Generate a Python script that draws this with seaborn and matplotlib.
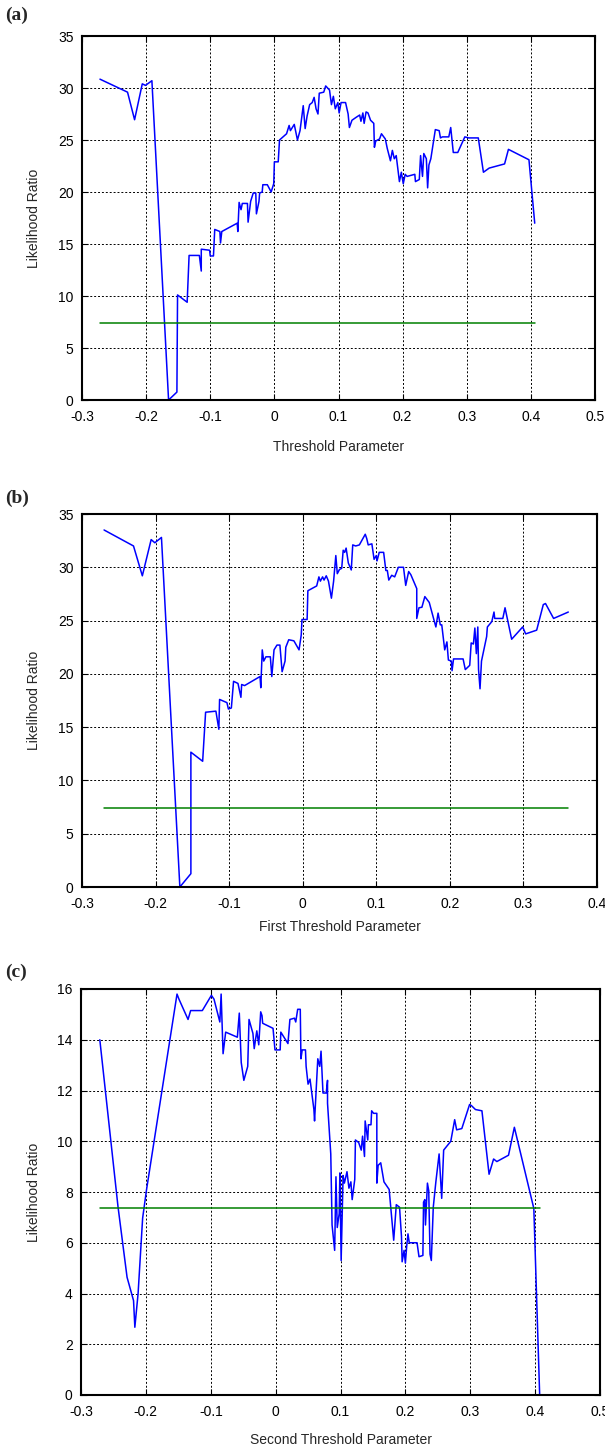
import matplotlib
matplotlib.use("Agg")
import matplotlib.pyplot as plt
import seaborn as sns
import pandas as pd
import numpy as np

# ---------------- data ----------------
a_x = [-0.272, -0.229, -0.218, -0.206, -0.201, -0.191, -0.165, -0.152, -0.151, -0.136,
       -0.133, -0.117, -0.114, -0.114, -0.101, -0.100, -0.095, -0.093, -0.085, -0.084,
       -0.082, -0.058, -0.057, -0.055, -0.052, -0.050, -0.042, -0.041, -0.037, -0.033,
       -0.029, -0.028, -0.024, -0.023, -0.019, -0.018, -0.011, -0.005, -0.001, 0.000,
       0.006, 0.008, 0.019, 0.023, 0.025, 0.028, 0.031, 0.036, 0.040, 0.045,
       0.048, 0.051, 0.055, 0.059, 0.062, 0.065, 0.068, 0.070, 0.077, 0.080,
       0.086, 0.089, 0.092, 0.095, 0.099, 0.101, 0.104, 0.111, 0.115, 0.117,
       0.121, 0.128, 0.133, 0.135, 0.138, 0.140, 0.143, 0.146, 0.150, 0.155,
       0.156, 0.158, 0.164, 0.167, 0.173, 0.176, 0.181, 0.184, 0.187, 0.190,
       0.195, 0.198, 0.201, 0.204, 0.207, 0.219, 0.220, 0.226, 0.228, 0.231,
       0.233, 0.237, 0.239, 0.241, 0.244, 0.251, 0.257, 0.259, 0.262, 0.272,
       0.275, 0.279, 0.286, 0.297, 0.303, 0.318, 0.326, 0.335, 0.359, 0.365,
       0.397, 0.406]
a_y = [30.85, 29.6, 26.95, 30.4, 30.25, 30.7, 0.0, 0.76, 10.1, 9.4,
       13.9, 13.9, 12.4, 14.5, 14.4, 13.85, 13.85, 16.4, 16.2, 15.1,
       16.2, 17.0, 16.2, 19.0, 18.3, 18.9, 18.9, 17.1, 19.1, 19.9,
       19.9, 17.9, 19.1, 19.9, 20.0, 20.7, 20.7, 20.0, 20.8, 22.9,
       22.9, 25.0, 25.6, 26.4, 25.9, 26.2, 26.5, 25.0, 25.9, 28.3,
       26.1, 27.3, 28.4, 28.6, 29.1, 28.0, 27.5, 29.5, 29.6, 30.2,
       29.8, 28.4, 29.2, 28.0, 28.6, 27.6, 28.6, 28.6, 27.5, 26.2,
       26.9, 27.2, 27.4, 26.8, 27.6, 26.6, 27.7, 27.6, 26.9, 26.6,
       24.3, 24.9, 25.1, 25.6, 25.1, 24.2, 23.0, 24.0, 23.2, 23.5,
       21.0, 21.9, 20.8, 21.7, 21.5, 21.7, 21.0, 21.2, 23.5, 21.5,
       23.7, 23.2, 20.4, 22.6, 23.2, 26.0, 25.9, 25.2, 25.3, 25.3,
       26.2, 23.8, 23.8, 25.3, 25.2, 25.2, 21.9, 22.3, 22.7, 24.1,
       23.1, 17.0]

b_x = [-0.270, -0.230, -0.218, -0.206, -0.201, -0.192, -0.167, -0.152, -0.152, -0.136,
       -0.132, -0.118, -0.114, -0.113, -0.103, -0.101, -0.097, -0.094, -0.088, -0.084,
       -0.083, -0.079, -0.058, -0.057, -0.055, -0.053, -0.050, -0.044, -0.042, -0.039,
       -0.035, -0.031, -0.028, -0.024, -0.023, -0.019, -0.012, -0.005, -0.002, -0.001,
       0.006, 0.007, 0.019, 0.022, 0.024, 0.027, 0.029, 0.032, 0.035, 0.039,
       0.042, 0.045, 0.047, 0.050, 0.053, 0.055, 0.057, 0.059, 0.062, 0.066,
       0.068, 0.072, 0.077, 0.081, 0.085, 0.087, 0.089, 0.094, 0.097, 0.100,
       0.101, 0.104, 0.110, 0.113, 0.115, 0.117, 0.121, 0.125, 0.130, 0.137,
       0.140, 0.144, 0.147, 0.155, 0.155, 0.158, 0.162, 0.166, 0.172, 0.179,
       0.181, 0.184, 0.187, 0.189, 0.193, 0.196, 0.198, 0.202, 0.203, 0.205,
       0.218, 0.221, 0.227, 0.229, 0.232, 0.234, 0.236, 0.238, 0.239, 0.241,
       0.243, 0.250, 0.251, 0.257, 0.260, 0.261, 0.272, 0.275, 0.284, 0.299,
       0.303, 0.318, 0.327, 0.330, 0.341, 0.361]
b_y = [33.5, 32.0, 29.2, 32.6, 32.3, 32.8, 0.0, 1.25, 12.65, 11.8,
       16.4, 16.5, 14.8, 17.6, 17.3, 16.7, 16.8, 19.3, 19.1, 17.8,
       19.0, 18.9, 19.75, 18.7, 22.25, 21.2, 21.6, 21.6, 19.75, 22.25,
       22.7, 22.7, 20.2, 21.2, 22.5, 23.2, 23.1, 22.25, 23.65, 25.1,
       25.1, 27.8, 28.25, 29.1, 28.7, 29.1, 28.8, 29.2, 28.7, 27.1,
       28.7, 31.1, 29.4, 29.8, 29.9, 31.6, 31.4, 31.8, 30.4, 29.75,
       32.1, 32.0, 32.1, 32.6, 33.1, 32.7, 32.1, 32.2, 30.75, 31.1,
       30.6, 31.4, 31.4, 29.7, 29.7, 28.8, 29.25, 29.1, 30.0, 30.0,
       28.3, 29.6, 29.3, 28.0, 25.2, 26.2, 26.25, 27.25, 26.7, 24.9,
       24.4, 25.7, 24.6, 24.6, 22.25, 23.0, 21.3, 21.2, 20.3, 21.4,
       21.4, 20.4, 20.8, 22.9, 22.8, 24.3, 21.9, 24.4, 20.4, 18.6,
       21.2, 23.5, 24.4, 24.9, 25.8, 25.2, 25.2, 26.2, 23.25, 24.4,
       23.75, 24.1, 26.5, 26.6, 25.2, 25.8]

c_x = [-0.271, -0.243, -0.229, -0.219, -0.217, -0.212, -0.205, -0.199, -0.152, -0.149,
       -0.135, -0.131, -0.113, -0.099, -0.095, -0.086, -0.084, -0.081, -0.077, -0.059,
       -0.056, -0.053, -0.049, -0.043, -0.041, -0.035, -0.033, -0.031, -0.029, -0.026,
       -0.023, -0.021, -0.020, -0.004, -0.001, 0.007, 0.008, 0.019, 0.022, 0.029,
       0.031, 0.034, 0.038, 0.039, 0.041, 0.046, 0.047, 0.050, 0.053, 0.059,
       0.060, 0.065, 0.068, 0.070, 0.073, 0.078, 0.080, 0.080, 0.085, 0.087,
       0.091, 0.093, 0.095, 0.098, 0.099, 0.101, 0.104, 0.106, 0.110, 0.113,
       0.116, 0.118, 0.122, 0.123, 0.128, 0.132, 0.134, 0.137, 0.138, 0.142,
       0.143, 0.147, 0.148, 0.151, 0.156, 0.156, 0.158, 0.162, 0.167, 0.175,
       0.182, 0.186, 0.191, 0.194, 0.195, 0.198, 0.200, 0.202, 0.204, 0.206,
       0.218, 0.221, 0.227, 0.228, 0.230, 0.231, 0.234, 0.236, 0.238, 0.240,
       0.243, 0.247, 0.252, 0.256, 0.259, 0.270, 0.276, 0.279, 0.287, 0.299,
       0.302, 0.308, 0.318, 0.329, 0.336, 0.341, 0.359, 0.368, 0.398, 0.407]
c_y = [14.0, 7.43, 4.64, 3.72, 2.67, 4.0, 6.97, 8.09, 15.8, 15.6,
       14.8, 15.15, 15.15, 15.75, 15.6, 14.7, 15.8, 13.45, 14.3, 14.1,
       15.05, 13.1, 12.4, 12.95, 14.8, 14.25, 13.65, 14.0, 14.35, 13.8,
       15.1, 14.95, 14.65, 14.45, 13.6, 13.6, 14.3, 13.85, 14.8, 14.85,
       14.7, 15.2, 15.2, 13.25, 13.6, 13.6, 12.95, 12.25, 12.45, 11.25,
       10.8, 13.25, 12.95, 13.55, 11.9, 11.9, 12.4, 11.5, 9.5, 6.7,
       5.7, 8.6, 6.6, 7.15, 8.75, 5.3, 8.65, 8.35, 8.8, 8.15,
       8.4, 7.7, 8.5, 10.05, 9.95, 9.65, 10.2, 9.4, 10.8, 10.05,
       10.65, 10.65, 11.2, 11.1, 11.1, 8.35, 9.05, 9.15, 8.4, 8.1,
       6.1, 7.5, 7.4, 6.25, 5.25, 5.7, 5.2, 5.85, 6.35, 6.0,
       6.0, 5.45, 5.5, 7.6, 7.7, 6.7, 8.35, 8.05, 5.55, 5.3,
       7.4, 8.4, 9.5, 7.75, 9.65, 10.0, 10.85, 10.45, 10.5, 11.45,
       11.4, 11.25, 11.2, 8.7, 9.3, 9.2, 9.45, 10.55, 7.35, 0.0]

threshold = 7.38
thr_a_x = [-0.272, 0.406]
thr_b_x = [-0.270, 0.361]
thr_c_x = [-0.271, 0.407]

panel_labels = ["(a)", "(b)", "(c)"]
x_labels = ["Threshold Parameter", "First Threshold Parameter", "Second Threshold Parameter"]
y_label = "Likelihood Ratio"
x_lims = [(-0.3, 0.5), (-0.3, 0.4), (-0.3, 0.5)]
y_lims = [(0, 35), (0, 35), (0, 16)]
y_steps = [5, 5, 2]

# ---------------- style ----------------
sns.set_style("white")
plt.rcParams["font.family"] = ["Liberation Sans", "DejaVu Sans"]

W, H = 605, 1446
fig = plt.figure(figsize=(W / 100, H / 100), dpi=100)

# axes boxes in pixels: left, top, right, bottom
boxes = [(82, 36, 595, 400), (82, 514, 597, 887), (81, 989, 600, 1395)]
label_pos = [15, 498, 972]
labelpads = [12, 7, 10]

series = [(a_x, a_y, thr_a_x), (b_x, b_y, thr_b_x), (c_x, c_y, thr_c_x)]

for i, ((l, t, r, b), (xs, ys, tx)) in enumerate(zip(boxes, series)):
    ax = fig.add_axes([l / W, 1 - b / H, (r - l) / W, (b - t) / H])
    df = pd.DataFrame({"x": xs, "y": ys})
    sns.lineplot(data=df, x="x", y="y", ax=ax, sort=False, estimator=None,
                 color="#0000ff", linewidth=1.1)
    tdf = pd.DataFrame({"x": tx, "y": [threshold] * len(tx)})
    sns.lineplot(data=tdf, x="x", y="y", ax=ax, sort=False, estimator=None,
                 color="#008000", linewidth=1.1)
    ax.set_xlim(*x_lims[i])
    ax.set_ylim(*y_lims[i])
    ax.set_xticks(np.round(np.arange(x_lims[i][0], x_lims[i][1] + 1e-9, 0.1), 1))
    ax.set_yticks(np.arange(y_lims[i][0], y_lims[i][1] + 1e-9, y_steps[i]))
    ax.xaxis.set_major_formatter(matplotlib.ticker.FuncFormatter(
        lambda v, p: "0" if abs(v) < 1e-9 else f"{v:g}"))
    ax.yaxis.set_major_formatter(matplotlib.ticker.FuncFormatter(lambda v, p: f"{v:g}"))
    ax.grid(True, color="black", linestyle=(0, (2, 2)), linewidth=0.7)
    ax.set_axisbelow(True)
    for s in ax.spines.values():
        s.set_visible(True)
        s.set_color("black")
        s.set_linewidth(1.5)
    ax.tick_params(axis="both", direction="in", length=4, width=0.8, labelsize=10,
                   top=True, right=True, bottom=True, left=True, colors="black")
    ax.tick_params(axis="x", pad=7)
    ax.tick_params(axis="y", pad=6)
    ax.set_xlabel(x_labels[i], fontsize=10, labelpad=labelpads[i])
    ax.set_ylabel(y_label, fontsize=10, labelpad=12)
    fig.text(5 / W, 1 - label_pos[i] / H, panel_labels[i], fontsize=14, fontweight="bold",
             family="Liberation Serif", va="center", ha="left")

fig.savefig("out.png", dpi=100)
